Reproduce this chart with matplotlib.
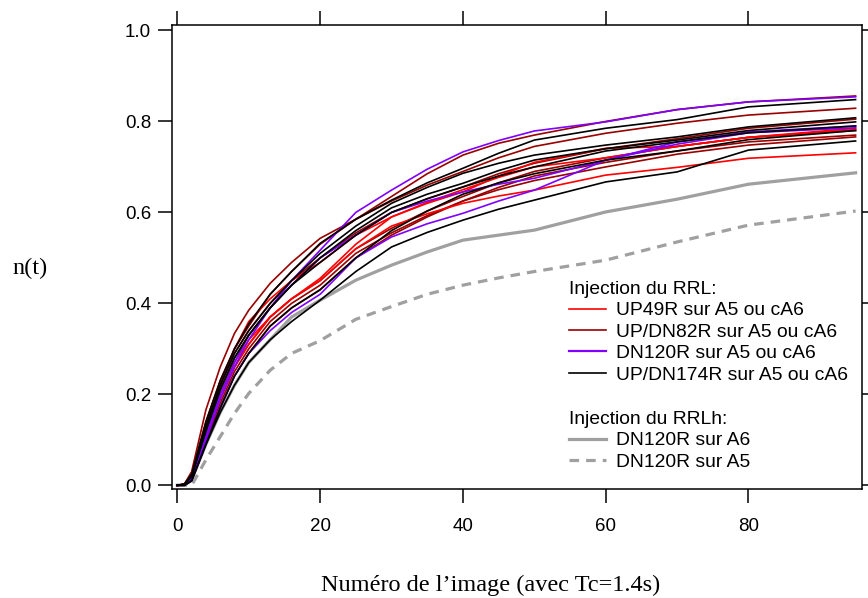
import matplotlib
matplotlib.use("Agg")
import matplotlib.pyplot as plt
from matplotlib.lines import Line2D

# image index samples
xs = [0, 1, 2, 4, 6, 8, 10, 13, 16, 20, 25, 30, 35, 40, 45, 50, 60, 70, 80, 95]

# Injection du RRL - UP49R (red)
r1 = [0, 0.002, 0.02, 0.12, 0.20, 0.27, 0.32, 0.37, 0.41, 0.45, 0.52, 0.57, 0.597, 0.62, 0.636, 0.649, 0.682, 0.699, 0.719, 0.731]
r2 = [0, 0.002, 0.02, 0.11, 0.19, 0.26, 0.31, 0.37, 0.41, 0.455, 0.53, 0.59, 0.62, 0.645, 0.68, 0.71, 0.741, 0.745, 0.765, 0.785]
r3 = [0, 0.003, 0.025, 0.14, 0.23, 0.30, 0.36, 0.41, 0.45, 0.49, 0.55, 0.59, 0.622, 0.65, 0.677, 0.70, 0.72, 0.745, 0.765, 0.782]
# UP/DN82R (dark red)
d1 = [0, 0.003, 0.03, 0.166, 0.26, 0.334, 0.385, 0.444, 0.49, 0.543, 0.585, 0.635, 0.685, 0.726, 0.752, 0.770, 0.800, 0.826, 0.843, 0.856]
d2 = [0, 0.002, 0.02, 0.13, 0.22, 0.30, 0.35, 0.42, 0.47, 0.53, 0.585, 0.625, 0.66, 0.69, 0.72, 0.745, 0.774, 0.796, 0.814, 0.829]
d3 = [0, 0.002, 0.02, 0.13, 0.22, 0.29, 0.34, 0.40, 0.45, 0.50, 0.555, 0.60, 0.63, 0.656, 0.685, 0.708, 0.740, 0.762, 0.785, 0.805]
d4 = [0, 0.002, 0.02, 0.11, 0.19, 0.26, 0.31, 0.37, 0.41, 0.45, 0.52, 0.565, 0.603, 0.635, 0.665, 0.69, 0.72, 0.745, 0.765, 0.780]
d5 = [0, 0.001, 0.015, 0.10, 0.18, 0.25, 0.30, 0.36, 0.40, 0.44, 0.51, 0.555, 0.593, 0.625, 0.655, 0.68, 0.71, 0.735, 0.755, 0.770]
d6 = [0, 0.001, 0.015, 0.10, 0.17, 0.24, 0.29, 0.35, 0.39, 0.43, 0.50, 0.55, 0.59, 0.625, 0.65, 0.67, 0.70, 0.728, 0.748, 0.766]
# DN120R (purple)
p1 = [0, 0.002, 0.02, 0.11, 0.20, 0.27, 0.33, 0.39, 0.45, 0.517, 0.60, 0.649, 0.695, 0.733, 0.758, 0.779, 0.799, 0.826, 0.843, 0.854]
p2 = [0, 0.001, 0.015, 0.10, 0.19, 0.26, 0.32, 0.39, 0.44, 0.50, 0.55, 0.60, 0.625, 0.645, 0.662, 0.675, 0.715, 0.755, 0.777, 0.790]
p3 = [0, 0.0, 0.01, 0.09, 0.17, 0.24, 0.29, 0.34, 0.38, 0.42, 0.50, 0.546, 0.575, 0.598, 0.625, 0.649, 0.715, 0.750, 0.775, 0.786]
# UP/DN174R (black)
k1 = [0, 0.003, 0.025, 0.14, 0.23, 0.30, 0.355, 0.42, 0.47, 0.532, 0.585, 0.627, 0.665, 0.697, 0.73, 0.759, 0.785, 0.804, 0.832, 0.848]
k2 = [0, 0.002, 0.02, 0.13, 0.22, 0.29, 0.34, 0.40, 0.45, 0.51, 0.57, 0.62, 0.655, 0.686, 0.708, 0.726, 0.748, 0.766, 0.788, 0.808]
k3 = [0, 0.002, 0.02, 0.12, 0.21, 0.28, 0.33, 0.39, 0.44, 0.50, 0.56, 0.61, 0.64, 0.664, 0.692, 0.715, 0.740, 0.759, 0.780, 0.799]
k4 = [0, 0.0, 0.01, 0.09, 0.16, 0.22, 0.27, 0.32, 0.36, 0.407, 0.47, 0.524, 0.556, 0.583, 0.607, 0.627, 0.667, 0.689, 0.737, 0.757]
k5 = [0, 0.002, 0.02, 0.12, 0.21, 0.28, 0.33, 0.39, 0.44, 0.49, 0.55, 0.60, 0.63, 0.656, 0.68, 0.700, 0.735, 0.755, 0.775, 0.790]
k6 = [0, 0.0, 0.01, 0.09, 0.17, 0.24, 0.29, 0.35, 0.39, 0.43, 0.50, 0.56, 0.603, 0.640, 0.665, 0.685, 0.715, 0.735, 0.760, 0.780]
# Injection du RRLh
g_a6 = [0, 0.0, 0.012, 0.09, 0.16, 0.22, 0.27, 0.32, 0.37, 0.407, 0.451, 0.484, 0.513, 0.539, 0.55, 0.561, 0.601, 0.629, 0.662, 0.687]
g_a5 = [0, 0.0, 0.0, 0.056, 0.107, 0.158, 0.202, 0.253, 0.29, 0.318, 0.365, 0.393, 0.42, 0.44, 0.456, 0.47, 0.495, 0.535, 0.572, 0.603]

red_curves = [r1, r2, r3]
darkred_curves = [d1, d2, d3, d4, d5, d6]
purple_curves = [p1, p2, p3]
black_curves = [k1, k2, k3, k4, k5, k6]

labels = ["UP49R sur A5 ou cA6", "UP/DN82R sur A5 ou cA6",
          "DN120R sur A5 ou cA6", "UP/DN174R sur A5 ou cA6"]
labels_h = ["DN120R sur A6", "DN120R sur A5"]

RED = "#FF0000"
DRED = "#990000"
PURP = "#7F00FF"
BLK = "#000000"
GRAY = "#A0A0A0"
DASH = (0, (3.0, 2.2))

fig = plt.figure(figsize=(8.68, 5.98), dpi=100)
ax = fig.add_axes([172/868, 1 - 488.5/598, 690/868, 463.5/598])

ax.plot(xs, g_a5, color=GRAY, lw=2.3, linestyle=DASH)
ax.plot(xs, g_a6, color=GRAY, lw=2.3)
for c in darkred_curves:
    ax.plot(xs, c, color=DRED, lw=1.2)
for c in red_curves:
    ax.plot(xs, c, color=RED, lw=1.2)
for c in purple_curves:
    ax.plot(xs, c, color=PURP, lw=1.2)
for c in black_curves:
    ax.plot(xs, c, color=BLK, lw=1.2)

ax.set_xlim(-0.75, 95.9)
ax.set_ylim(-0.007, 1.012)
ax.set_xticks([0, 20, 40, 60, 80])
ax.set_yticks([0.0, 0.2, 0.4, 0.6, 0.8, 1.0])
ax.set_yticklabels(["0.0", "0.2", "0.4", "0.6", "0.8", "1.0"])

for s in ax.spines.values():
    s.set_linewidth(1.1)
ax.tick_params(axis="both", which="major", direction="out", length=10, width=1.1,
               top=True, right=True, labeltop=False, labelright=False,
               labelsize=13.5)
ax.tick_params(axis="x", pad=11)
ax.tick_params(axis="y", pad=5)
for t in ax.get_xticklabels() + ax.get_yticklabels():
    t.set_fontfamily("Liberation Sans")

ax.set_xlabel("Numéro de l’image (avec Tc=1.4s)", fontfamily="Liberation Serif", fontsize=17.5)
ax.xaxis.set_label_coords((490.5 - 172) / 690, (488.5 - 585) / 463.5)
ax.xaxis.label.set_va("center")
ax.set_ylabel("n(t)", fontfamily="Liberation Serif", fontsize=17.5, rotation=0)
ax.yaxis.set_label_coords((30 - 172) / 690, (488.5 - 268) / 463.5)
ax.yaxis.label.set_va("center")
ax.yaxis.label.set_ha("center")

h1 = [Line2D([], [], color=RED, lw=1.2), Line2D([], [], color=DRED, lw=1.2),
      Line2D([], [], color=PURP, lw=1.6), Line2D([], [], color=BLK, lw=1.2)]
h2 = [Line2D([], [], color=GRAY, lw=2.3),
      Line2D([], [], color=GRAY, lw=2.3, linestyle=DASH)]

lp = dict(frameon=False, loc="upper left", bbox_transform=fig.transFigure,
          handlelength=1.9, handletextpad=0.52, labelspacing=0.2,
          borderpad=0, borderaxespad=0, alignment="left",
          prop={"family": "Liberation Sans", "size": 13.9},
          title_fontproperties={"family": "Liberation Sans", "size": 13.9})
leg1 = ax.legend(h1, labels, title="Injection du RRL:",
                 bbox_to_anchor=(569/868, 1 - 281/598), **lp)
ax.add_artist(leg1)
leg2 = ax.legend(h2, labels_h, title="Injection du RRLh:",
                 bbox_to_anchor=(569/868, 1 - 411/598), **lp)

fig.savefig("out.png", dpi=100)
